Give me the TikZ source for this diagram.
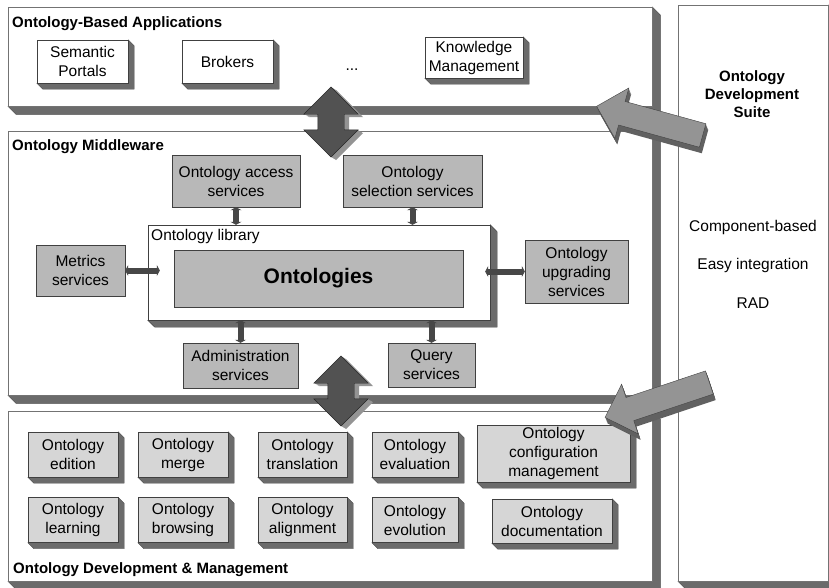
\documentclass[tikz,border=0pt]{standalone}
\usepackage{fontspec}
\setmainfont{Liberation Sans}
\usetikzlibrary{arrows.meta, shapes.arrows}

\tikzset{
  box3d/.style={append after command={\pgfextra{\filldraw[fill=black!58, draw=black!72]
    (\tikzlastnode.north east) -- ++(#1,#1) -- ([shift={(#1,#1)}]\tikzlastnode.south east)
    -- ([shift={(#1,#1)}]\tikzlastnode.south west) -- (\tikzlastnode.south west)
    -- (\tikzlastnode.south east) -- cycle;}}},
  tier/.style={draw=black!55, fill=white, rectangle, anchor=north west, box3d=8},
  appbox/.style={draw=black!75, fill=white, rectangle, align=center, inner sep=2pt, box3d=6},
  svcbox/.style={draw=black!75, fill=black!28, rectangle, align=center, inner sep=2pt},
  toolbox/.style={draw=black!75, fill=black!16, rectangle, align=center, inner sep=2pt, box3d=6},
  heading/.style={font=\fontsize{15}{18}\selectfont\bfseries, anchor=base west, inner sep=0pt},
  link/.style={draw=black!72, line width=6pt, {Triangle[width=11pt,length=3pt]}-{Triangle[width=11pt,length=3pt]}},
  bigarrow/.style={double arrow, draw=black!85, fill=black!68, inner sep=13pt, double arrow head extend=14pt,
    minimum height=70pt, rotate=90},
  sidearrow/.style={single arrow, draw=black!75, fill=black!42, inner sep=12pt, single arrow head extend=14pt,
    minimum height=110pt},
  depth/.style={fill=#1, draw=none},
}

\begin{document}
\begin{tikzpicture}[x=1pt, y=-1pt, every node/.style={font=\fontsize{15.5}{19}\selectfont}]
\useasboundingbox (0,0) rectangle (829,587);

% right edge shared by the three tiers
\fill[black!58] (652,14) rectangle (660,587);

\node (appl) at (8,7) [tier, minimum width=644pt, minimum height=99pt] {};
\node (midw) at (8,131) [tier, minimum width=644pt, minimum height=264pt] {};
\node (devm) at (8,411) [tier, minimum width=644pt, minimum height=170pt] {};
\node (suite) at (678,5) [tier, minimum width=150pt, minimum height=576pt] {};

\node (applname) at (12,27) [heading] {Ontology-Based Applications};
\node (midwname) at (12,150) [heading] {Ontology Middleware};
\node (devmname) at (13,573) [heading] {Ontology Development \& Management};

% applications
\node (portal) at (82.5,61.5) [appbox, minimum width=91pt, minimum height=43pt] {Semantic\\Portals};
\node (broker) at (227.5,61.5) [appbox, minimum width=91pt, minimum height=43pt] {Brokers};
\node (etc) at (352,70) [anchor=base, inner sep=0pt] {...};
\node (knowl) at (474,57.5) [appbox, minimum width=98pt, minimum height=41pt] {Knowledge\\Management};

% middleware
\node (access) at (236,181) [svcbox, minimum width=128pt, minimum height=52pt] {Ontology access\\services};
\node (select) at (412.5,181) [svcbox, minimum width=139pt, minimum height=52pt] {Ontology\\selection services};
\node (lib) at (319,272.5) [appbox, box3d=7, minimum width=342pt, minimum height=95pt] {};
\node (libname) at (151,229) [anchor=north west, inner sep=0pt] {Ontology library};
\node (onto) at (318.5,278.5) [svcbox, minimum width=289pt, minimum height=57pt, font=\fontsize{21}{24}\selectfont\bfseries] {Ontologies};
\node (metric) at (80.5,270.5) [svcbox, minimum width=89pt, minimum height=51pt] {Metrics\\services};
\node (upgrade) at (576.5,271.5) [svcbox, minimum width=103pt, minimum height=63pt] {Ontology\\upgrading\\services};
\node (admin) at (240.5,365.5) [svcbox, minimum width=115pt, minimum height=45pt] {Administration\\services};
\node (query) at (431.5,365) [svcbox, minimum width=87pt, minimum height=44pt] {Query\\services};

\draw[link] (access) to (access |- lib.north);
\draw[link] (select) to (select |- lib.north);
\draw[link, shorten >=-12pt] (metric) to (lib.west |- metric);
\draw[link, shorten >=-5pt] (upgrade) to (lib.east |- upgrade);
\draw[link] (admin) to (admin |- lib.south);
\draw[link] (query) to (query |- lib.south);

% development and management
\node (edit) at (73,454.5) [toolbox, minimum width=90pt, minimum height=45pt] {Ontology\\edition};
\node (merge) at (183,454.5) [toolbox, minimum width=90pt, minimum height=45pt] {Ontology\\merge};
\node (transl) at (302.5,454.5) [toolbox, minimum width=89pt, minimum height=45pt] {Ontology\\translation};
\node (evalu) at (415,454.5) [toolbox, minimum width=86pt, minimum height=45pt] {Ontology\\evaluation};
\node (config) at (553.5,453.5) [toolbox, minimum width=153pt, minimum height=57pt] {Ontology\\configuration\\management};
\node (learn) at (73,520) [toolbox, minimum width=90pt, minimum height=45pt] {Ontology\\learning};
\node (browse) at (183,520) [toolbox, minimum width=90pt, minimum height=45pt] {Ontology\\browsing};
\node (alignm) at (302.5,520) [toolbox, minimum width=89pt, minimum height=45pt] {Ontology\\alignment};
\node (evolu) at (415,520) [toolbox, minimum width=86pt, minimum height=45pt] {Ontology\\evolution};
\node (docu) at (552,521) [toolbox, minimum width=120pt, minimum height=44pt] {Ontology\\documentation};

% suite
\node (suitename) at (752,94) [align=center, font=\fontsize{15}{18}\selectfont\bfseries] {Ontology\\Development\\Suite};
\node (compo) at (753,227) {Component-based};
\node (easy) at (753,265) {Easy integration};
\node (rad) at (753,303) {RAD};

% arrows between the tiers
\foreach \d in {1,...,5} {
  \node (upperside\d) at (331+\d,122+0.6*\d) [bigarrow, depth=black!42] {};
  \node (lowerside\d) at (341+\d,391+0.6*\d) [bigarrow, depth=black!42] {};
}
\node (upper) at (331,122) [bigarrow] {};
\node (lower) at (341,391) [bigarrow] {};

\foreach \d in {1,...,6} {
  \node (feedtopside\d) at (655.5+0.4*\d,122.5+\d) [sidearrow, rotate=164.6, depth=black!62] {};
  \node (feedlowside\d) at (663+0.4*\d,398+\d) [sidearrow, rotate=198.5, depth=black!62] {};
}
\node (feedtop) at (655.5,122.5) [sidearrow, rotate=164.6] {};
\node (feedlow) at (663,398) [sidearrow, rotate=198.5] {};
\end{tikzpicture}
\end{document}
